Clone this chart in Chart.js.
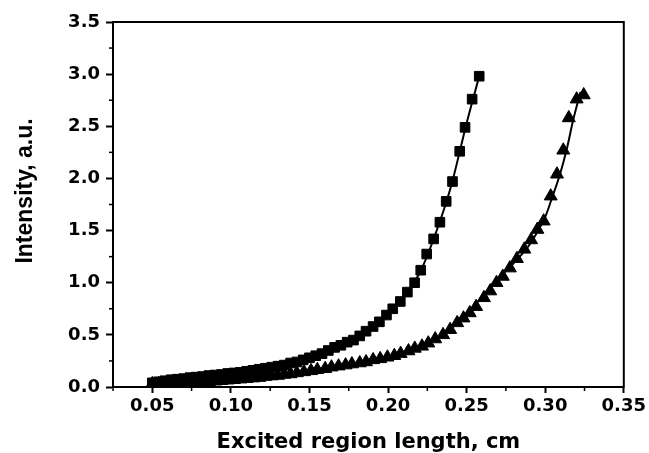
<!DOCTYPE html>
<html>
<head>
<meta charset="utf-8">
<script src="https://cdn.jsdelivr.net/npm/chart.js@4/dist/chart.umd.min.js"></script>
<style>
  html, body { margin: 0; padding: 0; background: #fff; }
  #c { display: block; }
</style>
</head>
<body>
<canvas id="c" width="649" height="453"></canvas>
<script>
// ---- data ----
const sqX = [0.050,0.054,0.058,0.062,0.066,0.070,0.074,0.078,0.082,0.086,0.090,0.094,0.098,0.102,0.106,0.110,0.114,0.118,0.122,0.126,0.130,0.134,0.138,0.142,0.146,0.150,0.154,0.158,0.162,0.166,0.170,0.174,0.178,0.182,0.186,0.1905,0.1945,0.199,0.203,0.2078,0.2123,0.2169,0.2208,0.2246,0.229,0.233,0.237,0.241,0.2456,0.249,0.2535,0.258];
const sqY = [0.04,0.05,0.06,0.07,0.075,0.08,0.09,0.095,0.10,0.11,0.115,0.12,0.13,0.135,0.14,0.15,0.16,0.17,0.18,0.19,0.20,0.21,0.23,0.24,0.26,0.28,0.30,0.32,0.35,0.38,0.40,0.43,0.45,0.49,0.535,0.58,0.625,0.69,0.75,0.82,0.91,1.00,1.12,1.275,1.42,1.58,1.78,1.97,2.26,2.49,2.76,2.98];

const triX = [0.050,0.054,0.058,0.062,0.066,0.070,0.074,0.078,0.082,0.086,0.090,0.094,0.098,0.102,0.106,0.110,0.114,0.118,0.122,0.126,0.130,0.134,0.138,0.142,0.1465,0.151,0.155,0.160,0.164,0.1685,0.173,0.177,0.182,0.186,0.1905,0.195,0.1996,0.204,0.208,0.213,0.217,0.2216,0.2256,0.230,0.235,0.2395,0.244,0.248,0.252,0.256,0.261,0.265,0.269,0.273,0.2775,0.282,0.2867,0.291,0.295,0.299,0.3035,0.3075,0.3115,0.315,0.320,0.3245];
const triY = [0.03,0.03,0.03,0.035,0.035,0.04,0.04,0.045,0.05,0.05,0.055,0.06,0.065,0.07,0.075,0.08,0.085,0.09,0.10,0.105,0.11,0.12,0.125,0.135,0.145,0.155,0.165,0.175,0.19,0.20,0.21,0.22,0.23,0.24,0.26,0.27,0.285,0.30,0.32,0.345,0.37,0.39,0.42,0.46,0.50,0.55,0.615,0.66,0.71,0.77,0.855,0.92,1.00,1.06,1.14,1.23,1.32,1.41,1.51,1.59,1.83,2.04,2.27,2.58,2.76,2.80];

const fitSqX = [0.05,0.08,0.10,0.12,0.14,0.16,0.18,0.19,0.20,0.21,0.22,0.23,0.24,0.25,0.258];
const fitSqY = [0.04,0.10,0.13,0.175,0.235,0.335,0.47,0.575,0.71,0.87,1.09,1.46,1.92,2.53,2.98];

const fitTriX = [0.05,0.08,0.10,0.12,0.14,0.16,0.18,0.20,0.22,0.235,0.25,0.26,0.27,0.282,0.2893,0.2947,0.300,0.3047,0.3096,0.314,0.3178,0.3225];
const fitTriY = [0.03,0.045,0.065,0.095,0.13,0.175,0.225,0.29,0.385,0.50,0.70,0.87,1.04,1.22,1.35,1.48,1.63,1.83,2.05,2.30,2.56,2.83];

const xTickValues = [0.05,0.10,0.15,0.20,0.25,0.30,0.35];
const yTickValues = [0.0,0.5,1.0,1.5,2.0,2.5,3.0,3.5];
const xTitle = 'Excited region length, cm';
const yTitle = 'Intensity, a.u.';

// ---- build ----
const pts = (xs, ys) => xs.map((x, i) => ({ x: x, y: ys[i] }));
const FONT = 'DejaVu Sans';

const framePlugin = {
  id: 'frame',
  afterDraw(chart) {
    const { ctx, chartArea: a, scales } = chart;
    ctx.save();
    ctx.strokeStyle = '#000';
    ctx.lineWidth = 2;
    ctx.strokeRect(a.left, a.top, a.right - a.left, a.bottom - a.top);
    ctx.lineWidth = 1.5;
    // minor ticks halfway between the library's major ticks
    const ys = scales.y.ticks.map(t => t.value);
    for (let i = 0; i < ys.length - 1; i++) {
      const p = scales.y.getPixelForValue((ys[i] + ys[i + 1]) / 2);
      ctx.beginPath(); ctx.moveTo(a.left - 4, p); ctx.lineTo(a.left, p); ctx.stroke();
    }
    const xs = scales.x.ticks.map(t => t.value);
    const step = xs[1] - xs[0];
    const mids = [xs[0] - step / 2];
    for (let i = 0; i < xs.length - 1; i++) mids.push((xs[i] + xs[i + 1]) / 2);
    mids.forEach(v => {
      const p = scales.x.getPixelForValue(v);
      ctx.beginPath(); ctx.moveTo(p, a.bottom); ctx.lineTo(p, a.bottom + 4); ctx.stroke();
    });
    // y-axis title (placed as in the reference, slightly above the axis centre)
    ctx.fillStyle = '#000';
    ctx.font = 'bold 23px "Liberation Sans", Arial, sans-serif';
    ctx.textAlign = 'center';
    ctx.textBaseline = 'alphabetic';
    ctx.translate(32, scales.y.getPixelForValue(1.88));
    ctx.rotate(-Math.PI / 2);
    ctx.fillText(yTitle, 0, 0);
    ctx.restore();
  }
};

new Chart(document.getElementById('c'), {
  type: 'scatter',
  data: {
    datasets: [
      { data: pts(fitSqX, fitSqY), showLine: true, pointRadius: 0, borderColor: '#000', borderWidth: 2, cubicInterpolationMode: 'monotone', fill: false },
      { data: pts(fitTriX, fitTriY), showLine: true, pointRadius: 0, borderColor: '#000', borderWidth: 2, cubicInterpolationMode: 'monotone', fill: false },
      { data: pts(sqX, sqY), showLine: false, pointStyle: 'rect', pointRadius: 6.8, backgroundColor: '#000', borderColor: '#000', borderWidth: 1 },
      { data: pts(triX, triY), showLine: false, pointStyle: 'triangle', pointRadius: 7.5, backgroundColor: '#000', borderColor: '#000', borderWidth: 1 }
    ]
  },
  options: {
    responsive: false,
    animation: false,
    devicePixelRatio: 1,
    layout: { padding: { left: 0, right: 22, top: 22, bottom: 0 } },
    plugins: { legend: { display: false }, tooltip: { enabled: false } },
    scales: {
      x: {
        type: 'linear', min: 0.025, max: 0.35,
        afterBuildTicks: s => { s.ticks = xTickValues.map(v => ({ value: v })); },
        afterFit: s => { s.height = 66; },
        grid: { drawOnChartArea: false, drawTicks: true, tickLength: 6, tickColor: '#000', tickWidth: 2 },
        border: { display: true, color: '#000', width: 2 },
        ticks: { color: '#000', font: { family: FONT, size: 18, weight: 'bold' }, padding: 3, maxRotation: 0,
                 callback: v => Number(v).toFixed(2) },
        title: { display: true, text: xTitle, color: '#000', font: { family: FONT, size: 21, weight: 'bold', lineHeight: 1.0 }, padding: { top: 0, bottom: 0 } }
      },
      y: {
        type: 'linear', min: 0, max: 3.5,
        afterBuildTicks: s => { s.ticks = yTickValues.map(v => ({ value: v })); },
        afterFit: s => { s.width = 113; },
        grid: { drawOnChartArea: false, drawTicks: true, tickLength: 7, tickColor: '#000', tickWidth: 2 },
        border: { display: true, color: '#000', width: 2 },
        ticks: { color: '#000', font: { family: FONT, size: 18, weight: 'bold' }, padding: 6,
                 callback: v => Number(v).toFixed(1) },
        title: { display: false }
      }
    }
  },
  plugins: [framePlugin]
});
</script>
</body>
</html>
